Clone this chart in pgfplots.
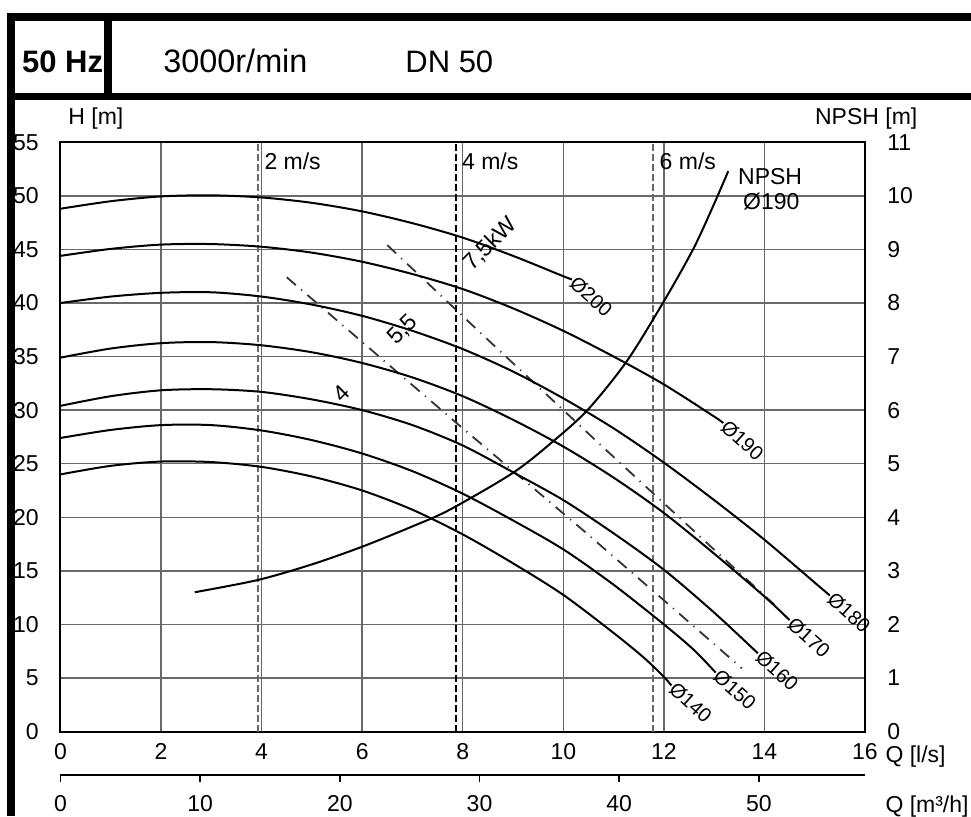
\documentclass[border=0pt]{standalone}
\usepackage{pgfplots}
\usepackage{pgfplotstable}
\pgfplotsset{compat=1.18}
\usepackage{fontspec}
\setmainfont{Liberation Sans}

% Head curves H [m] over Q [l/s] for each impeller diameter
\pgfplotstableread{
Q H
0 48.8
1 49.5
2 49.95
3 50.05
4 49.85
5 49.35
6 48.55
7 47.45
8 46.1
9 44.4
10 42.5
10.17 42.2
}\dtwohundred
\pgfplotstableread{
Q H
0 44.4
1 45.05
2 45.45
3 45.5
4 45.25
5 44.7
6 43.85
7 42.7
8 41.3
9 39.5
10 37.4
11 35.0
12 32.4
13 29.4
13.18 28.8
}\donequninety
\pgfplotstableread{
Q H
0 40.0
1 40.6
2 40.95
3 41.0
4 40.6
5 39.85
6 38.8
7 37.4
8 35.7
9 33.6
10 31.1
11 28.3
12 25.1
13 21.6
14 17.9
15 13.9
15.3 12.7
}\doneeighty
\pgfplotstableread{
Q H
0 34.9
1 35.75
2 36.25
3 36.35
4 36.05
5 35.4
6 34.4
7 33.05
8 31.3
9 29.1
10 26.6
11 23.7
12 20.4
13 16.6
14 12.6
14.5 10.4
}\doneseventy
\pgfplotstableread{
Q H
0 30.4
1 31.3
2 31.85
3 31.95
4 31.7
5 31.0
6 30.0
7 28.6
8 26.7
9 24.2
10 21.6
11 18.5
12 15.1
13 11.1
13.87 7.3
}\donesixty
\pgfplotstableread{
Q H
0 27.4
1 28.15
2 28.6
3 28.6
4 28.1
5 27.2
6 25.95
7 24.3
8 22.2
9 19.7
10 17.0
11 13.7
12 10.0
12.6 7.6
13.03 5.5
}\donefifty
\pgfplotstableread{
Q H
0 24.0
1 24.8
2 25.2
3 25.15
4 24.7
5 23.8
6 22.5
7 20.7
8 18.4
9 15.7
10 12.75
11 9.2
11.6 6.9
12 5.1
12.15 4.3
}\doneforty
% NPSH [m] for the 190 mm impeller
\pgfplotstableread{
Q N
2.67 2.6
3.93 2.83
5 3.12
6 3.45
7 3.83
7.74 4.14
9.0 4.83
9.8 5.42
10.49 6.01
11.26 6.91
11.98 8.0
12.58 9.0
12.98 9.81
13.28 10.46
}\npsh

\definecolor{gridgray}{RGB}{105,105,105}
\newcommand\lbl{\fontsize{11.5}{13}\selectfont}
\newcommand\dlbl{\fontsize{10}{12}\selectfont}

\tikzset{
  curve/.style={black, line width=1pt, smooth},
  speed/.style={gridgray, line width=1.1pt, dash pattern=on 3.5pt off 1.5pt},
  power/.style={black!80, line width=0.9pt, dash pattern=on 6pt off 3.5pt on 0.6pt off 3.5pt},
  dia/.style={font=\dlbl, anchor=west, inner sep=0.5pt, rotate=-42},
  txt/.style={font=\lbl, anchor=base west, inner sep=0pt},
}

\begin{document}
\begin{tikzpicture}
\useasboundingbox (-30.25pt,-42.25pt) rectangle (455.25pt,365.75pt);
\pgfplotsset{
  pumpbox/.style={
    at={(0pt,0pt)}, anchor=south west,
    scale only axis, width=402.25pt, height=294.6pt,
    xmin=0, xmax=16,
    major tick length=0pt,
    /pgf/number format/assume math mode=true,
    ticklabel style={font=\lbl, inner sep=0pt},
    axis line style={black, line width=1pt},
    clip=false,
  },
}
\begin{axis}[pumpbox,
  ymin=0, ymax=55,
  xtick={0,2,...,16}, ytick={0,5,...,55},
  grid=major, major grid style={gridgray, line width=0.7pt},
  yticklabel style={anchor=east, xshift=-10.75pt},
  xticklabel style={anchor=north, yshift=-5.75pt},
]
% flow velocity in DN 50
\addplot[speed, no marks] coordinates {(3.93,0) (3.93,55)};
\addplot[speed, black, line width=1pt, no marks] coordinates {(7.86,0) (7.86,55)};
\addplot[speed, no marks] coordinates {(11.79,0) (11.79,55)};
\node[txt] at (axis cs:4.05,52.45) {2 m/s};
\node[txt] at (axis cs:7.98,52.45) {4 m/s};
\node[txt] at (axis cs:11.91,52.45) {6 m/s};
% motor power limits
\addplot[power, no marks] coordinates {(6.5,45.4) (8.47,36.7) (10.73,26.8) (13.18,16.2) (14.3,11.4)};
\addplot[power, no marks] coordinates {(4.5,42.4) (8.0,28.3) (10.39,18.8) (12.38,10.7) (13.55,5.9)};
\node[font=\lbl, rotate=45] at (axis cs:8.55,45.5) {7,5kW};
\node[font=\lbl, rotate=45] at (axis cs:6.81,37.5) {5,5};
\node[font=\lbl, rotate=45] at (axis cs:5.58,31.6) {4};
% head curves
\addplot[curve, no marks] table[x=Q,y=H] {\dtwohundred};
\addplot[curve, no marks] table[x=Q,y=H] {\donequninety};
\addplot[curve, no marks] table[x=Q,y=H] {\doneeighty};
\addplot[curve, no marks] table[x=Q,y=H] {\doneseventy};
\addplot[curve, no marks] table[x=Q,y=H] {\donesixty};
\addplot[curve, no marks] table[x=Q,y=H] {\donefifty};
\addplot[curve, no marks] table[x=Q,y=H] {\doneforty};
\node[dia] at (axis cs:10.17,42.2) {Ø200};
\node[dia] at (axis cs:13.18,28.8) {Ø190};
\node[dia] at (axis cs:15.3,12.7) {Ø180};
\node[dia] at (axis cs:14.5,10.4) {Ø170};
\node[dia] at (axis cs:13.87,7.3) {Ø160};
\node[dia] at (axis cs:13.03,5.5) {Ø150};
\node[dia] at (axis cs:12.15,4.3) {Ø140};
% axis titles
\node[txt] at (axis cs:0.15,56.68) {H [m]};
\node[txt] at (axis cs:15.0,56.68) {NPSH [m]};
\node[txt] at (axis cs:16.4,-2.85) {Q [l/s]};
\node[txt] at (axis cs:16.4,-7.52) {Q [m³/h]};
\node[txt] at (axis cs:13.47,51.07) {NPSH};
\node[txt] at (axis cs:13.57,48.73) {Ø190};
\end{axis}
% NPSH scale on the right
\begin{axis}[pumpbox,
  ymin=0, ymax=11, ytick={0,1,...,11},
  axis x line=none, axis y line*=right,
  yticklabel style={anchor=west, xshift=11pt},
]
\addplot[curve, no marks] table[x=Q,y=N] {\npsh};
\end{axis}
% flow in m3/h
\begin{axis}[
  at={(0pt,-21.75pt)}, anchor=south west,
  scale only axis, width=402.25pt, height=10pt,
  xmin=0, xmax=57.6, ymin=0, ymax=1,
  axis y line=none, axis x line*=bottom,
  xtick={0,10,...,50},
  tick align=outside, major tick length=3.5pt,
  tick style={black, line width=0.8pt},
  axis line style={black, line width=1pt, -},
  /pgf/number format/assume math mode=true,
  xticklabel style={font=\lbl, inner sep=0pt, anchor=north, yshift=-6.5pt},
]
\end{axis}
% header frame
\begin{scope}[x=0.5pt, y=-0.5pt, shift={(-30.25pt,365.75pt)}]
\draw[line width=4pt] (7,16.7) -- (971,16.7);
\draw[line width=4pt] (11,12.7) -- (11,816);
\draw[line width=3.6pt] (7,96.3) -- (971,96.3);
\draw[line width=3.6pt] (108,16.7) -- (108,96.3);
\node[anchor=base west, inner sep=0pt, font=\bfseries\fontsize{15.5}{18}\selectfont] at (21.7,72) {50 Hz};
\node[anchor=base west, inner sep=0pt, font=\fontsize{16.2}{18}\selectfont] at (163,72) {3000r/min};
\node[anchor=base west, inner sep=0pt, font=\fontsize{15.5}{18}\selectfont] at (405,72) {DN 50};
\end{scope}
\end{tikzpicture}
\end{document}
